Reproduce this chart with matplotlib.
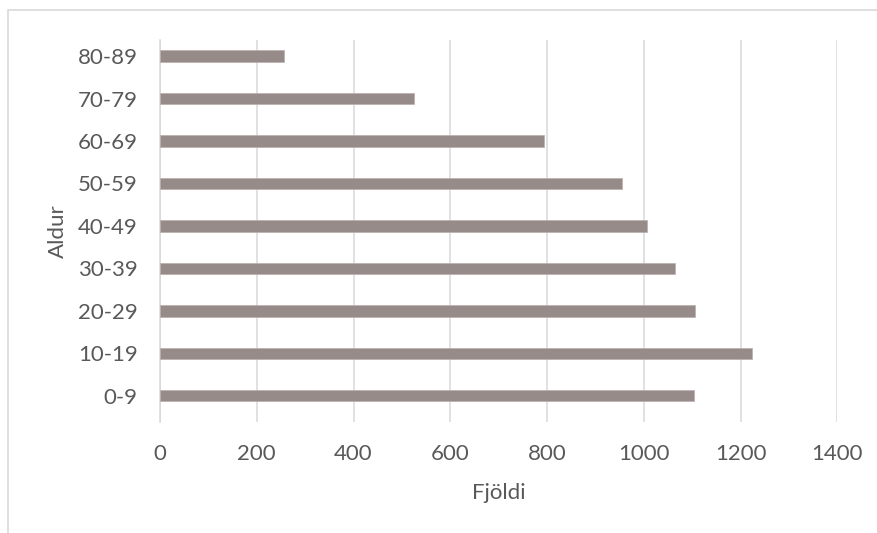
import matplotlib
matplotlib.use('Agg')
import matplotlib.pyplot as plt
from matplotlib.patches import Rectangle

# age groups and counts, bottom to top as in the chart
aldur = ['0-9', '10-19', '20-29', '30-39', '40-49', '50-59', '60-69', '70-79', '80-89']
fjoldi = [1104, 1224, 1105, 1064, 1007, 954, 793, 524, 257]

plt.rcParams['font.family'] = ['Lato', 'DejaVu Sans']
txt_color = '#595959'
grid_color = '#D9D9D9'
fs = 16

fig = plt.figure(figsize=(8.77, 5.33), dpi=100)
ax = fig.add_axes([160/877, 1 - 422/533, (837.3 - 160)/877, (422 - 40)/533])

ax.barh(aldur, fjoldi, height=0.27, color='#968B89', edgecolor='#B9AFAD', linewidth=0.5, zorder=3)

ax.set_xlim(0, 1400)
# bars sit a little above the middle of their bands in the original
ax.set_ylim(-0.62, len(aldur) - 0.62)
ax.set_xticks(range(0, 1401, 200))
ax.grid(axis='x', color=grid_color, linewidth=1.1, zorder=0)
ax.grid(axis='y', visible=False)
for s in ['top', 'right', 'bottom']:
    ax.spines[s].set_visible(False)
ax.spines['left'].set_color(grid_color)
ax.spines['left'].set_linewidth(1.1)
ax.tick_params(axis='both', length=0, labelsize=fs, labelcolor=txt_color)
ax.tick_params(axis='y', pad=16)
ax.tick_params(axis='x', pad=16)

ax.set_xlabel('Fjöldi', fontsize=fs, color=txt_color)
ax.set_ylabel('Aldur', fontsize=fs, color=txt_color)
ax.xaxis.set_label_coords(0.5, -(492.7 - 422) / 382, transform=ax.transAxes)
ax.yaxis.set_label_coords(-(160 - 57.5) / 677.3, 0.5, transform=ax.transAxes)
ax.xaxis.label.set_va('center')
ax.yaxis.label.set_va('center')
ax.yaxis.label.set_ha('center')

# chart frame, cut off on the right and at the bottom
fig.patches.append(Rectangle((8/877, -0.1), 1.2, 1 - 10/533 + 0.1, transform=fig.transFigure,
                             fill=False, edgecolor=grid_color, linewidth=1.2))

fig.savefig('out.png', dpi=100)
